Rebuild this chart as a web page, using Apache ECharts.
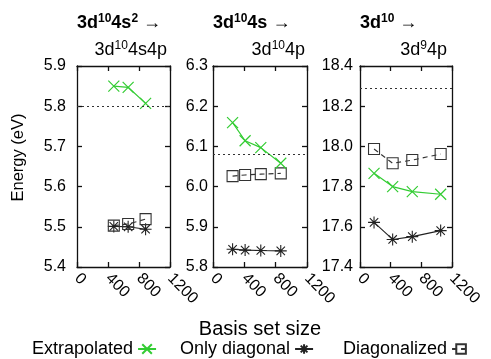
<!DOCTYPE html>
<html>
<head>
<meta charset="utf-8">
<script src="https://cdn.jsdelivr.net/npm/echarts@6/dist/echarts.min.js"></script>
<style>
  html, body { margin: 0; padding: 0; background: #fff; }
  #chart { width: 491px; height: 359px; }
</style>
</head>
<body>
<div id="chart"></div>
<script>
// 数据
const seriesNames = ['Extrapolated', 'Only diagonal', 'Diagonalized'];

// 面板1: 3d10 4s2 -> 3d10 4s4p
const p1Basis = [475, 660, 885];
const p1Extrap = [5.850, 5.847, 5.807];
const p1OnlyDiag = [5.501, 5.500, 5.494];
const p1Diag = [5.503, 5.507, 5.519];
const p1Ref = 5.796;

// 面板2: 3d10 4s -> 3d10 4p
const p2Basis = [250, 410, 610, 865];
const p2Extrap = [6.159, 6.114, 6.097, 6.058];
const p2OnlyDiag = [5.844, 5.842, 5.841, 5.840];
const p2Diag = [6.026, 6.029, 6.031, 6.033];
const p2Ref = 6.083;

// 面板3: 3d10 -> 3d9 4p
const p3Basis = [183, 426, 682, 1052];
const p3Extrap = [17.866, 17.800, 17.775, 17.762];
const p3OnlyDiag = [17.622, 17.537, 17.551, 17.581];
const p3Diag = [17.987, 17.916, 17.932, 17.962];
const p3Ref = 18.289;

const xTicks = [0, 1200, 400];          // min, max, interval
const yRanges = [[5.4, 5.9, 0.1], [5.8, 6.3, 0.1], [17.4, 18.4, 0.2]];

document.addEventListener('DOMContentLoaded', () => {
    const chart = echarts.init(document.getElementById('chart'));
    const font = 'Liberation Sans';
    const green = '#33cc33';
    const dark = '#222';

    const panels = [
        { basis: p1Basis, ext: p1Extrap, only: p1OnlyDiag, diag: p1Diag, ref: p1Ref, left: 77, width: 93, yMargin: 11 },
        { basis: p2Basis, ext: p2Extrap, only: p2OnlyDiag, diag: p2Diag, ref: p2Ref, left: 213, width: 94, yMargin: 5 },
        { basis: p3Basis, ext: p3Extrap, only: p3OnlyDiag, diag: p3Diag, ref: p3Ref, left: 360, width: 92, yMargin: 7 }
    ];

    const axisLine = { show: true, onZero: false, lineStyle: { color: '#111', width: 1.3 } };
    const axisTick = { show: true, inside: true, length: 5, lineStyle: { color: '#111', width: 1.3 } };

    const grid = [], xAxis = [], yAxis = [], series = [];

    panels.forEach((p, i) => {
        grid.push({ left: p.left, width: p.width, top: 66, height: 201 });
        const [ymin, ymax, yint] = yRanges[i];

        // 下方 x 轴
        xAxis.push({
            type: 'value', gridIndex: i, position: 'bottom',
            min: xTicks[0], max: xTicks[1], interval: xTicks[2],
            axisLine, axisTick, splitLine: { show: false },
            axisLabel: { rotate: -45, fontSize: 16, fontFamily: font, color: '#000', margin: 9,
                         showMinLabel: true, showMaxLabel: true, formatter: v => String(v) },
            name: i === 1 ? 'Basis set size' : '',
            nameLocation: 'middle', nameGap: 52,
            nameTextStyle: { fontSize: 20, fontFamily: font, color: '#000' }
        });
        // 上方镜像 x 轴
        xAxis.push({
            type: 'value', gridIndex: i, position: 'top',
            min: xTicks[0], max: xTicks[1], interval: xTicks[2],
            axisLine, axisTick, splitLine: { show: false }, axisLabel: { show: false }
        });
        // 左侧 y 轴
        yAxis.push({
            type: 'value', gridIndex: i, position: 'left',
            min: ymin, max: ymax, interval: yint,
            axisLine, axisTick, splitLine: { show: false },
            axisLabel: { fontSize: 16, fontFamily: font, color: '#000', margin: p.yMargin,
                         formatter: v => v.toFixed(1) },
            name: i === 0 ? 'Energy (eV)' : '',
            nameLocation: 'middle', nameGap: 50,
            nameTextStyle: { fontSize: 16.5, fontFamily: font, color: '#000', padding: [0, 0, 0, 18] }
        });
        // 右侧镜像 y 轴
        yAxis.push({
            type: 'value', gridIndex: i, position: 'right',
            min: ymin, max: ymax, interval: yint,
            axisLine, axisTick, splitLine: { show: false }, axisLabel: { show: false }
        });

        const xi = i * 2, yi = i * 2;
        series.push({
            name: seriesNames[0], type: 'line', xAxisIndex: xi, yAxisIndex: yi,
            data: p.basis.map((x, k) => [x, p.ext[k]]),
            symbol: 'path://M0,0L10,10M10,0L0,10', symbolSize: 11,
            itemStyle: { color: 'rgba(0,0,0,0)', borderColor: green, borderWidth: 1.2 },
            lineStyle: { color: green, width: 1.2 },
            markLine: {
                silent: true, symbol: 'none', label: { show: false },
                lineStyle: { color: '#333', type: [2, 3], width: 1 },
                data: [{ yAxis: p.ref }]
            },
            z: 3
        });
        series.push({
            name: seriesNames[1], type: 'line', xAxisIndex: xi, yAxisIndex: yi,
            data: p.basis.map((x, k) => [x, p.only[k]]),
            symbol: 'path://M5,0L5,10M0,5L10,5M1.5,1.5L8.5,8.5M8.5,1.5L1.5,8.5', symbolSize: 12,
            itemStyle: { color: 'rgba(0,0,0,0)', borderColor: dark, borderWidth: 1.1 },
            lineStyle: { color: dark, width: 1.1 },
            z: 2
        });
        series.push({
            name: seriesNames[2], type: 'line', xAxisIndex: xi, yAxisIndex: yi,
            data: p.basis.map((x, k) => [x, p.diag[k]]),
            symbol: 'path://M0,0L10,0L10,10L0,10Z', symbolSize: 11,
            itemStyle: { color: 'rgba(0,0,0,0)', borderColor: '#333', borderWidth: 1.1 },
            lineStyle: { color: '#333', width: 1.1, type: [5, 4] },
            z: 2
        });
    });

    const rich = {
        b: { fontSize: 18, fontWeight: 'bold', fontFamily: font, color: '#000' },
        bs: { fontSize: 12, fontWeight: 'bold', fontFamily: font, color: '#000', padding: [0, 0, 9, 0] },
        n: { fontSize: 18, fontWeight: 'normal', fontFamily: font, color: '#000' },
        ns: { fontSize: 12, fontWeight: 'normal', fontFamily: font, color: '#000', padding: [0, 0, 9, 0] }
    };
    const titleBase = { padding: 0, textStyle: { rich, fontWeight: 'normal' } };

    // 图例：三组，分别定位
    const legendBase = {
        top: 340, padding: 0, align: 'right',
        itemWidth: 18, itemHeight: 12,
        textStyle: { fontSize: 18, fontFamily: font, color: '#000' }
    };

    const option = {
        backgroundColor: '#fff',
        animation: false,
        title: [
            { ...titleBase, text: '{b|3d}{bs|10}{b|4s}{bs|2}{n| →}', left: 77, top: 13 },
            { ...titleBase, text: '{n|3d}{ns|10}{n|4s4p}', right: 324, top: 40 },
            { ...titleBase, text: '{b|3d}{bs|10}{b|4s}{n| →}', left: 213, top: 13 },
            { ...titleBase, text: '{n|3d}{ns|10}{n|4p}', right: 186, top: 40 },
            { ...titleBase, text: '{b|3d}{bs|10}{n| →}', left: 360, top: 13 },
            { ...titleBase, text: '{n|3d}{ns|9}{n|4p}', right: 44, top: 40 }
        ],
        legend: [
            { ...legendBase, data: [seriesNames[0]], left: 32 },
            { ...legendBase, data: [seriesNames[1]], left: 180 },
            { ...legendBase, data: [seriesNames[2]], left: 343 }
        ],
        grid, xAxis, yAxis, series
    };

    chart.setOption(option);
    window.addEventListener('resize', () => chart.resize());
});
</script>
</body>
</html>
